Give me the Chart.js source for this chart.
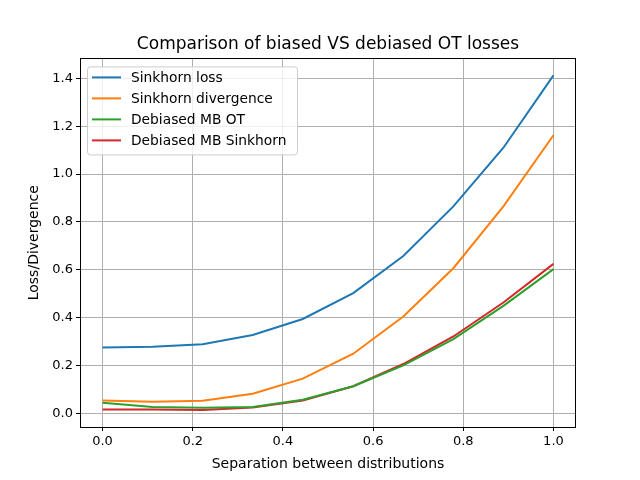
<!DOCTYPE html>
<html>
<head>
<meta charset="utf-8">
<script src="https://cdn.jsdelivr.net/npm/chart.js@4/dist/chart.umd.min.js"></script>
<style>
  html, body { margin: 0; padding: 0; background: #fff; }
  #wrap { width: 640px; height: 480px; }
</style>
</head>
<body>
<div id="wrap"><canvas id="chart" width="640" height="480"></canvas></div>
<script>
// Данные графика
const separation = [0.0, 0.111, 0.222, 0.333, 0.444, 0.556, 0.667, 0.778, 0.889, 1.0];
const sinkhornLoss = [0.276, 0.279, 0.290, 0.328, 0.395, 0.503, 0.658, 0.865, 1.110, 1.412];
const sinkhornDivergence = [0.055, 0.049, 0.054, 0.083, 0.146, 0.250, 0.405, 0.607, 0.865, 1.162];
const debiasedMbOt = [0.045, 0.028, 0.024, 0.028, 0.058, 0.114, 0.201, 0.311, 0.450, 0.603];
const debiasedMbSinkhorn = [0.017, 0.017, 0.015, 0.025, 0.055, 0.114, 0.207, 0.322, 0.464, 0.625];
const xTicks = [0.0, 0.2, 0.4, 0.6, 0.8, 1.0];
const yTicks = [0.0, 0.2, 0.4, 0.6, 0.8, 1.0, 1.2, 1.4];

const FONT = 'DejaVu Sans';

function toPoints(ys) {
    return ys.map((y, i) => ({ x: separation[i], y: y }));
}

// Рамка вокруг области графика (все четыре стороны)
const framePlugin = {
    id: 'frame',
    afterDatasetsDraw(chart) {
        const { ctx, chartArea: a } = chart;
        ctx.save();
        ctx.strokeStyle = '#000';
        ctx.lineWidth = 1;
        ctx.strokeRect(Math.round(a.left) + 0.5, Math.round(a.top) + 0.5,
            Math.round(a.right - a.left) - 1, Math.round(a.bottom - a.top));
        ctx.restore();
    }
};

// Легенда внутри области графика, слева сверху
const insideLegend = {
    id: 'insideLegend',
    afterDraw(chart) {
        const { ctx, chartArea: a } = chart;
        const x0 = a.left + 7, y0 = a.top + 8;
        const w = 210, h = 88;
        ctx.save();
        ctx.fillStyle = 'rgba(255,255,255,0.8)';
        ctx.strokeStyle = '#cccccc';
        ctx.lineWidth = 1;
        ctx.beginPath();
        ctx.roundRect(x0 + 0.5, y0 + 0.5, w, h, 3);
        ctx.fill();
        ctx.stroke();
        ctx.font = '13.8px "' + FONT + '"';
        ctx.textBaseline = 'middle';
        chart.data.datasets.forEach((ds, i) => {
            const y = y0 + 11 + i * 21;
            ctx.strokeStyle = ds.borderColor;
            ctx.lineWidth = 2;
            ctx.beginPath();
            ctx.moveTo(x0 + 5, y);
            ctx.lineTo(x0 + 34, y);
            ctx.stroke();
            ctx.fillStyle = '#000';
            ctx.fillText(ds.label, x0 + 44, y + 1);
        });
        ctx.restore();
    }
};

new Chart(document.getElementById('chart'), {
    type: 'line',
    data: {
        datasets: [
            { label: 'Sinkhorn loss', data: toPoints(sinkhornLoss), borderColor: '#1f77b4' },
            { label: 'Sinkhorn divergence', data: toPoints(sinkhornDivergence), borderColor: '#ff7f0e' },
            { label: 'Debiased MB OT', data: toPoints(debiasedMbOt), borderColor: '#2ca02c' },
            { label: 'Debiased MB Sinkhorn', data: toPoints(debiasedMbSinkhorn), borderColor: '#d62728' }
        ].map(ds => Object.assign(ds, { borderWidth: 2, pointRadius: 0, fill: false, tension: 0 }))
    },
    options: {
        responsive: false,
        animation: false,
        layout: { padding: { left: 0, right: 64, top: 0, bottom: 0 } },
        plugins: {
            legend: { display: false },
            tooltip: { enabled: false },
            title: {
                display: true,
                fullSize: false,
                text: 'Comparison of biased VS debiased OT losses',
                color: '#000',
                font: { family: FONT, size: 17, weight: 'normal' },
                padding: { top: 34, bottom: 4 }
            }
        },
        scales: {
            x: {
                type: 'linear',
                min: -0.05,
                max: 1.05,
                afterFit: s => { s.height = 53; },
                afterBuildTicks: s => { s.ticks = xTicks.map(v => ({ value: v })); },
                grid: { color: '#b0b0b0', lineWidth: 1, tickColor: '#000', tickLength: 4 },
                border: { display: false },
                ticks: {
                    color: '#000',
                    padding: 3,
                    maxRotation: 0,
                    font: { family: FONT, size: 13 },
                    callback: v => v.toFixed(1)
                },
                title: {
                    display: true,
                    text: 'Separation between distributions',
                    color: '#000',
                    font: { family: FONT, size: 14 },
                    padding: { top: 0, bottom: 7 }
                }
            },
            y: {
                min: -0.056,
                max: 1.483,
                afterFit: s => { s.width = 80; },
                afterBuildTicks: s => { s.ticks = yTicks.map(v => ({ value: v })); },
                grid: { color: '#b0b0b0', lineWidth: 1, tickColor: '#000', tickLength: 4 },
                border: { display: false },
                ticks: {
                    color: '#000',
                    padding: 3,
                    font: { family: FONT, size: 13 },
                    callback: v => v.toFixed(1)
                },
                title: {
                    display: true,
                    text: 'Loss/Divergence',
                    color: '#000',
                    font: { family: FONT, size: 14 },
                    padding: { top: 26, bottom: 0 }
                }
            }
        }
    },
    plugins: [framePlugin, insideLegend]
});
</script>
</body>
</html>
